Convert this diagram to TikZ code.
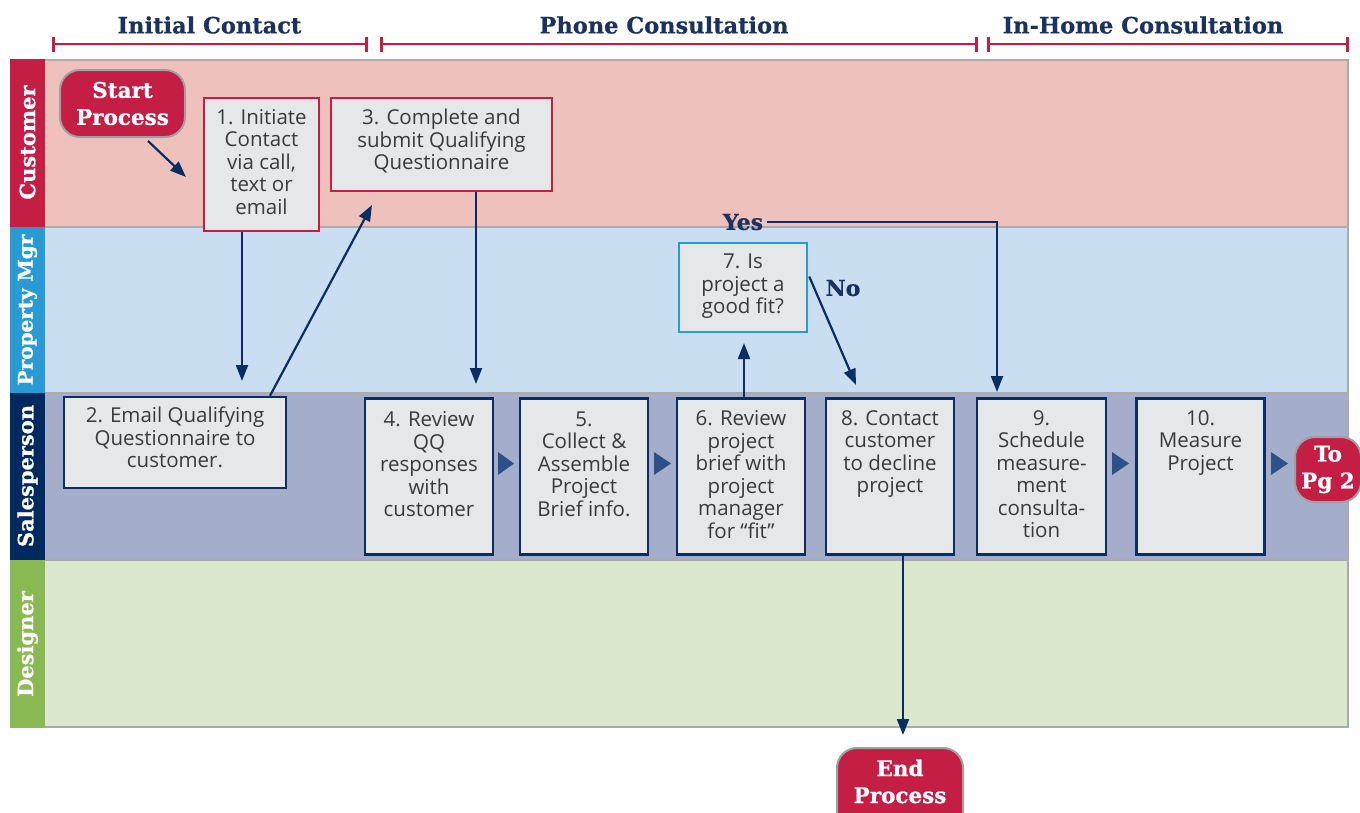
\documentclass[tikz,border=0pt]{standalone}
\usepackage{fontspec}
\setmainfont{Open Sans}
\newfontfamily\slab{DejaVu Serif}[FakeBold=0.6]
\newfontfamily\slabw{DejaVu Serif}[FakeBold=0.8]
\usetikzlibrary{arrows.meta}
\definecolor{crimson}{HTML}{C41E45}
\definecolor{navy}{HTML}{0B2D62}
\definecolor{hdrnavy}{HTML}{1B325F}
\definecolor{pmblue}{HTML}{2A9AD5}
\definecolor{salesnavy}{HTML}{00295F}
\definecolor{desgreen}{HTML}{89B952}
\definecolor{custfill}{HTML}{EEC1BC}
\definecolor{pmfill}{HTML}{CADEF2}
\definecolor{salesfill}{HTML}{A4AECB}
\definecolor{desfill}{HTML}{DCE8CD}
\definecolor{lanegray}{HTML}{ABABAB}
\definecolor{boxfill}{HTML}{E6E7E8}
\definecolor{textgray}{HTML}{3A3A3A}
\definecolor{trinavy}{HTML}{2E5089}
\definecolor{termgray}{HTML}{A0A0A0}
\begin{document}
\begin{tikzpicture}[x=1pt,y=-1pt,
  lanelabel/.style={rotate=90, font=\slabw\bfseries\fontsize{21}{24}\selectfont, text=white, inner sep=0pt},
  hdr/.style={font=\slab\bfseries\fontsize{22.5}{26}\selectfont, text=hdrnavy, inner sep=0pt},
  bracket/.style={draw=crimson, line width=2.2pt},
  tick/.style={draw=crimson, line width=3pt},
  box/.style={draw, line width=2.5pt, fill=boxfill, inner sep=0pt},
  redbox/.style={box, draw=crimson},
  navybox/.style={box, draw=navy},
  bluebox/.style={box, draw=pmblue},
  txt/.style={align=center, font=\fontsize{20.5}{22.5}\selectfont, text=textgray, inner sep=0pt, anchor=north},
  arr/.style={draw=navy, line width=2.2pt, -{Triangle[length=16pt,width=12pt]}},
  term/.style={rounded corners=20pt, fill=crimson, draw=termgray, line width=2pt, inner sep=0pt},
  termtxt/.style={text=white, align=center, font=\slabw\bfseries\fontsize{21.5}{27}\selectfont, inner sep=0pt},
  lbl/.style={text=hdrnavy, font=\slabw\bfseries\fontsize{22}{24}\selectfont, inner sep=0pt},
  tri/.style={fill=trinavy}
]
\useasboundingbox (0,0) rectangle (1360,812);
% lanes
\fill[custfill] (45,60) rectangle (1348,227);
\fill[pmfill] (45,227) rectangle (1348,393);
\fill[salesfill] (45,393) rectangle (1348,560);
\fill[desfill] (45,560) rectangle (1348,727);
\draw[lanegray, line width=2.5pt] (45,60) -- (1348,60) -- (1348,727) -- (45,727);
\draw[lanegray, line width=2.5pt] (45,227) -- (1348,227);
\draw[lanegray, line width=2.5pt] (45,393) -- (1348,393);
\draw[lanegray, line width=2.5pt] (45,560) -- (1348,560);
\fill[crimson] (10,59) rectangle (45,227);
\fill[pmblue] (10,227) rectangle (45,393);
\fill[salesnavy] (10,393) rectangle (45,560);
\fill[desgreen] (10,560) rectangle (45,728);
\node[lanelabel] (lcust) at (27.5,142.5) {Customer};
\node[lanelabel, font=\slabw\bfseries\fontsize{20}{24}\selectfont] (lpm) at (27.5,310) {Property Mgr};
\node[lanelabel] (lsales) at (27.5,476) {Salesperson};
\node[lanelabel] (ldes) at (27.5,644) {Designer};
% headers
\node[hdr] (h1) at (209.5,25) {Initial Contact};
\node[hdr] (h2) at (664,25) {Phone Consultation};
\node[hdr] (h3) at (1143,25) {In-Home Consultation};
\draw[bracket] (53,44) -- (366,44);
\draw[bracket] (381,44) -- (976,44);
\draw[bracket] (988,44) -- (1347,44);
\foreach \x in {53,366,381,976,988,1347} \draw[tick] (\x,36.5) -- (\x,51.5);
% terminators
\node[term, minimum width=125pt, minimum height=67pt] (start) at (122.5,103.5) {};
\node[termtxt] (starttxt) at (start) {Start\\Process};
\node[term, minimum width=126pt, minimum height=90pt] (endp) at (900,793) {};
\node[termtxt] (endtxt) at (900,781.5) {End\\Process};
\node[term, minimum width=66pt, minimum height=65pt] (topg) at (1328,469.5) {};
\node[termtxt] (topgtxt) at (topg) {To\\Pg 2};
% boxes
\node[redbox, minimum width=115pt, minimum height=133pt] (b1) at (261.5,164.5) {};
\node[txt] at ([yshift=-12pt]b1.north) {1. Initiate\\Contact\\via call,\\text or\\email};
\node[redbox, minimum width=221pt, minimum height=93pt] (b3) at (441.5,144.5) {};
\node[txt] at ([yshift=-12pt]b3.north) {3. Complete and\\submit Qualifying\\Questionnaire};
\node[navybox, minimum width=222pt, minimum height=91pt] (b2) at (175,442.5) {};
\node[txt] at ([yshift=-11pt]b2.north) {2. Email Qualifying\\Questionnaire to\\customer.};
\node[navybox, minimum width=128pt, minimum height=156pt] (b4) at (429,476.5) {};
\node[txt] at ([yshift=-14pt]b4.north) {4. Review\\QQ\\responses\\with\\customer};
\node[navybox, minimum width=128pt, minimum height=156pt] (b5) at (584,476.5) {};
\node[txt] at ([yshift=-14pt]b5.north) {5.\\Collect \&\\Assemble\\Project\\Brief info.};
\node[navybox, minimum width=128pt, minimum height=156pt] (b6) at (741,476.5) {};
\node[txt] at ([yshift=-13pt]b6.north) {6. Review\\project\\brief with\\project\\manager\\for “fit”};
\node[navybox, minimum width=128pt, minimum height=156pt] (b8) at (890,476.5) {};
\node[txt] at ([yshift=-13pt]b8.north) {8. Contact\\customer\\to decline\\project};
\node[navybox, minimum width=129pt, minimum height=156pt] (b9) at (1041.5,476.5) {};
\node[txt] at ([yshift=-13pt]b9.north) {9.\\Schedule\\measure-\\ment\\consulta-\\tion};
\node[navybox, minimum width=128pt, minimum height=156pt] (b10) at (1200.5,476.5) {};
\node[txt] at ([yshift=-13pt]b10.north) {10.\\Measure\\Project};
\node[bluebox, minimum width=128pt, minimum height=89pt] (b7) at (743,287.5) {};
\node[txt] at ([yshift=-12pt]b7.north) {7. Is\\project a\\good fit?};
% flow triangles
\fill[tri] (498,452) -- (514,463.5) -- (498,475) -- cycle;
\fill[tri] (654,452) -- (671,463.5) -- (654,475) -- cycle;
\fill[tri] (1112,452) -- (1129,463.5) -- (1112,475) -- cycle;
\fill[tri] (1271,452) -- (1288,463.5) -- (1271,475) -- cycle;
% labels
\node[lbl] (yes) at (743,222) {Yes};
\node[lbl] (no) at (843,288) {No};
% connectors
\coordinate (t0) at (186,177);
\coordinate (t1) at (242,381);
\coordinate (t2) at (372,205);
\coordinate (t3) at (476,384);
\coordinate (t6) at (744,343);
\coordinate (t7) at (856,385);
\coordinate (t9) at (997,392);
\coordinate (t8) at (903,735);
\draw[arr] ([xshift=25.5pt,yshift=-3pt]start.south) -- (t0);
\draw[arr] (b1.south -| t1) -- (t1);
\draw[arr] ([xshift=95pt]b2.north) -- (t2);
\draw[arr] (b3.south -| t3) -- (t3);
\draw[arr] (b6.north -| t6) -- (t6);
\draw[arr] ([xshift=1pt,yshift=11pt]b7.east) -- (t7);
\draw[arr] ([xshift=4pt]yes.east) -| (t9);
\draw[arr] (b8.south -| t8) -- (t8);
\end{tikzpicture}
\end{document}
